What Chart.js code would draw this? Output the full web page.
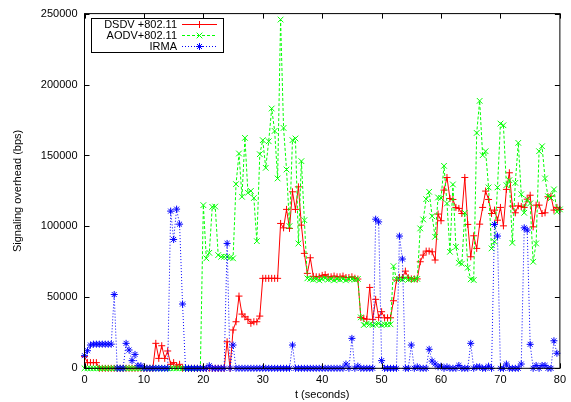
<!DOCTYPE html>
<html>
<head>
<meta charset="utf-8">
<script src="https://cdn.jsdelivr.net/npm/chart.js@4/dist/chart.umd.min.js"></script>
<style>
html,body{margin:0;padding:0;background:#fff;}
#wrap{width:571px;height:402px;}
</style>
</head>
<body>
<div id="wrap"><canvas id="c" width="571" height="402"></canvas></div>
<script>
// Time samples (seconds)
const times = [
 0,0.5,1,1.5,2,2.5,3,3.5,4,4.5,5,5.5,6,6.5,7,7.5,8,8.5,9,9.5,
 10,10.5,11,11.5,12,12.5,13,13.5,14,14.5,15,15.5,16,16.5,17,17.5,18,18.5,19,19.5,
 20,20.5,21,21.5,22,22.5,23,23.5,24,24.5,25,25.5,26,26.5,27,27.5,28,28.5,29,29.5,
 30,30.5,31,31.5,32,32.5,33,33.5,34,34.5,35,35.5,36,36.5,37,37.5,38,38.5,39,39.5,
 40,40.5,41,41.5,42,42.5,43,43.5,44,44.5,45,45.5,46,46.5,47,47.5,48,48.5,49,49.5,
 50,50.5,51,51.5,52,52.5,53,53.5,54,54.5,55,55.5,56,56.5,57,57.5,58,58.5,59,59.5,
 60,60.5,61,61.5,62,62.5,63,63.5,64,64.5,65,65.5,66,66.5,67,67.5,68,68.5,69,69.5,
 70,70.5,71,71.5,72,72.5,73,73.5,74,74.5,75,75.5,76,76.5,77,77.5,78,78.5,79,79.5,
 80
];

// DSDV +802.11 (bps)
const dsdv = [
 8200,4000,4000,4000,4000,0,0,0,0,0,0,0,0,0,0,0,0,0,0,0,
 0,0,0,0,17600,7000,15900,7000,12200,2800,4000,1500,2800,0,0,0,0,0,0,0,
 0,0,0,0,0,0,0,0,18700,0,27000,32800,50900,38200,36300,34500,31700,32800,32800,36800,
 63400,63400,63400,63400,63400,63400,102100,99000,112000,98600,124400,112000,127900,100900,81000,66900,77900,64800,64500,64500,
 65500,66000,64500,64500,65000,64500,64500,65000,64000,64000,64500,63500,62900,35900,35100,34600,57000,34500,48600,35900,
 39900,35600,35600,35600,47600,62200,64100,64000,68500,63800,63000,63000,63000,75100,79800,82600,82600,82100,76300,108700,
 104000,125600,134500,119700,119000,113400,112700,109100,134500,101400,78600,93400,84500,101600,113400,124900,119000,109100,111500,104400,
 113400,100400,126100,137800,114300,109600,114500,114000,113400,119200,122000,99700,115000,115000,109100,109600,120900,121300,111500,113400,
 112000
];

// AODV+802.11 (bps)
const aodv = [
 0,0,0,0,0,0,0,0,0,0,0,0,0,0,0,0,0,0,0,0,
 0,0,0,0,0,0,0,0,0,0,0,0,0,0,0,0,0,0,0,0,
 115000,77500,81400,113800,114000,79800,78600,78600,78600,78000,77500,129800,151400,120900,162400,123700,125000,120000,89600,150900,
 160800,141300,160000,183100,167300,133800,245800,169400,140100,100200,160800,162000,88000,146000,104400,63400,63000,62500,63000,62000,
 63000,63500,62500,63000,62000,63000,62500,63000,62000,63000,63000,62500,63000,35900,30500,31500,31000,30500,31000,31500,
 30500,31000,31000,31000,72000,62700,63000,62500,63500,62500,63000,62500,63000,98600,104900,119200,124400,107200,92700,120400,
 120000,142700,116200,82100,129600,85600,74400,73700,109600,70900,62700,62200,165900,188500,150200,153000,127500,84500,89200,127500,
 172500,171300,129100,132600,88400,130700,158900,122700,109600,119000,116200,75100,88000,153000,156500,133800,121300,120000,126100,110300,
 112000
];

// IRMA (bps)
const irma = [
 8900,12400,16400,17000,17000,17000,17000,17000,17000,17000,52000,0,0,0,17600,12900,5400,9800,1800,1800,
 0,0,0,0,0,0,0,0,0,110800,90800,112200,101600,45300,0,0,0,0,0,0,
 0,0,1800,0,0,0,0,0,88000,0,16400,0,0,0,0,0,0,0,0,0,
 0,0,0,0,0,0,0,0,0,0,16400,0,0,0,0,0,0,0,0,0,
 0,0,0,0,0,0,0,0,3000,0,21100,0,1500,0,0,0,0,0,105100,103200,
 5400,0,0,0,0,0,93200,77000,0,0,16400,0,1000,0,0,0,13400,5100,3000,1000,
 1500,0,1000,0,0,0,2000,0,0,0,17600,0,1000,1000,0,0,1500,0,101400,93200,
 0,0,3000,0,0,0,0,3000,99000,97400,16900,0,2000,0,2000,2000,0,0,19400,10600,
 null
];

const seriesLabels = ['DSDV +802.11', 'AODV+802.11', 'IRMA'];
const xTickStep = 10;
const yTickStep = 50000;

const FONT = 'Liberation Sans, Arial, Helvetica, sans-serif';

function pts(vals){ return times.map((t,i)=>({x:t, y:vals[i]})); }

function drawMarker(ctx, style, r, x, y){
  ctx.beginPath();
  if (style === 'cross' || style === 'star'){
    ctx.moveTo(x - r, y); ctx.lineTo(x + r, y);
    ctx.moveTo(x, y - r); ctx.lineTo(x, y + r);
  }
  if (style === 'crossRot' || style === 'star'){
    const d = r * Math.SQRT1_2;
    ctx.moveTo(x - d, y - d); ctx.lineTo(x + d, y + d);
    ctx.moveTo(x - d, y + d); ctx.lineTo(x + d, y - d);
  }
  ctx.stroke();
}

const framePlugin = {
  id: 'gnuplotFrame',
  afterDatasetsDraw(chart){
    const {ctx, chartArea: a, scales} = chart;
    const xs = scales.x, ys = scales.y;
    ctx.save();
    ctx.strokeStyle = '#000';
    ctx.lineWidth = 1;
    ctx.setLineDash([]);
    ctx.strokeRect(a.left, a.top, a.right - a.left, a.bottom - a.top);
    const tl = 5;
    ctx.beginPath();
    xs.ticks.forEach(t => {
      const px = Math.round(xs.getPixelForValue(t.value)) + 0.5;
      ctx.moveTo(px, a.bottom); ctx.lineTo(px, a.bottom - tl);
      ctx.moveTo(px, a.top); ctx.lineTo(px, a.top + tl);
    });
    ys.ticks.forEach(t => {
      const py = Math.round(ys.getPixelForValue(t.value)) + 0.5;
      ctx.moveTo(a.left, py); ctx.lineTo(a.left + tl, py);
      ctx.moveTo(a.right, py); ctx.lineTo(a.right - tl, py);
    });
    ctx.stroke();

    // key box (gnuplot style)
    const bx = Math.round(a.left + 6) + 0.5, by = Math.round(a.top + 4) + 0.5;
    ctx.fillStyle = '#fff';
    ctx.fillRect(bx, by, 132, 34);
    ctx.strokeStyle = '#000';
    ctx.strokeRect(bx, by, 132, 34);
    ctx.font = '11px ' + FONT;
    ctx.textAlign = 'right';
    ctx.textBaseline = 'middle';
    chart.data.datasets.forEach((ds, i) => {
      const ry = Math.round(a.top + 10 + i * 11.3) + 0.5;
      ctx.fillStyle = '#000';
      ctx.fillText(ds.label, a.left + 92.5, ry);
      ctx.strokeStyle = ds.borderColor;
      ctx.lineWidth = 1;
      ctx.setLineDash(ds.borderDash || []);
      ctx.beginPath();
      ctx.moveTo(a.left + 97.5, ry); ctx.lineTo(a.left + 132.5, ry);
      ctx.stroke();
      ctx.setLineDash([]);
      drawMarker(ctx, ds.pointStyle, ds.pointRadius, a.left + 115, ry);
    });
    ctx.restore();
  }
};

new Chart(document.getElementById('c'), {
  type: 'line',
  data: {
    datasets: [
      { label: seriesLabels[0], data: pts(dsdv), borderColor: '#ff0000', backgroundColor: '#ff0000',
        borderWidth: 1, pointStyle: 'cross', pointRadius: 3.5, pointBorderWidth: 1, pointBorderColor: '#ff0000',
        fill: false, tension: 0, order: 2, clip: false },
      { label: seriesLabels[1], data: pts(aodv), borderColor: '#00ff00', backgroundColor: '#00ff00',
        borderWidth: 1, borderDash: [3, 2], pointStyle: 'crossRot', pointRadius: 4, pointBorderWidth: 1, pointBorderColor: '#00ff00',
        fill: false, tension: 0, order: 1, clip: false },
      { label: seriesLabels[2], data: pts(irma), borderColor: '#0000ff', backgroundColor: '#0000ff',
        borderWidth: 1, borderDash: [1, 2], pointStyle: 'star', pointRadius: 3.5, pointBorderWidth: 1, pointBorderColor: '#0000ff',
        fill: false, tension: 0, order: 0, clip: false }
    ]
  },
  options: {
    responsive: false,
    animation: false,
    devicePixelRatio: 1,
    layout: { padding: { left: 0, right: 7.3, top: 13.3, bottom: 0 } },
    plugins: { legend: { display: false }, tooltip: { enabled: false } },
    elements: { point: { hoverRadius: 3 } },
    scales: {
      x: {
        type: 'linear', min: 0, max: 80,
        grid: { display: false, drawTicks: false },
        border: { display: false },
        ticks: { stepSize: xTickStep, color: '#000', font: { family: FONT, size: 11 }, padding: 5, maxRotation: 0 },
        title: { display: true, text: 't (seconds)', color: '#000', font: { family: FONT, size: 11 }, padding: { top: 0, bottom: 0 } },
        afterFit(s){ s.height = 33.7; }
      },
      y: {
        type: 'linear', min: 0, max: 250000,
        grid: { display: false, drawTicks: false },
        border: { display: false },
        ticks: { stepSize: yTickStep, color: '#000', font: { family: FONT, size: 11 }, padding: 7,
                 callback: v => String(v) },
        title: { display: true, text: 'Signaling overhead (bps)', color: '#000', font: { family: FONT, size: 11 }, padding: { top: 11.4, bottom: 0 } },
        afterFit(s){ s.width = 84.5; }
      }
    }
  },
  plugins: [framePlugin]
});
</script>
</body>
</html>
